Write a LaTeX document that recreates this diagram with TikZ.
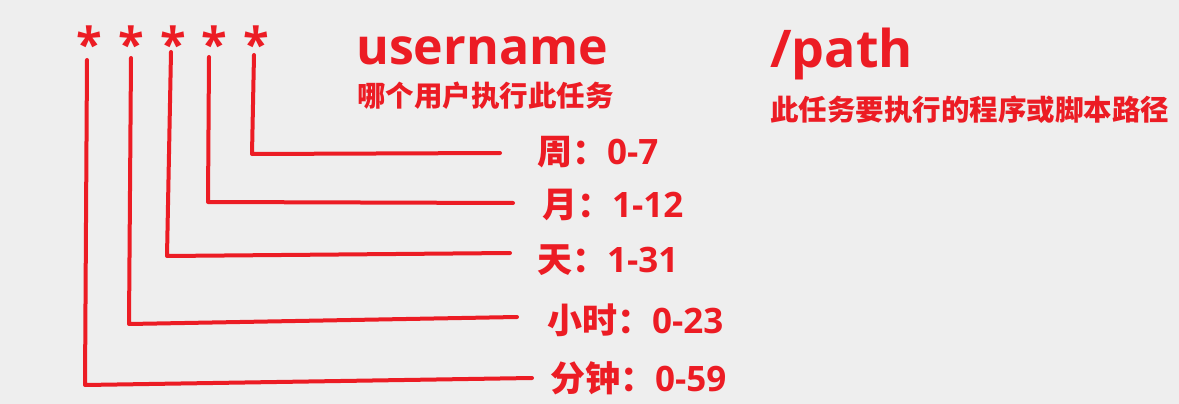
\documentclass[tikz,border=0pt]{standalone}
\usepackage{fontspec}
\setmainfont{Open Sans}
\newfontfamily\cjk{Noto Sans CJK SC}
\definecolor{cred}{RGB}{236,28,36}
\definecolor{bgc}{RGB}{238,238,238}
\begin{document}
\begin{tikzpicture}[x=1pt,y=-1pt,
  redline/.style={draw=cred,line width=4pt,line cap=round,line join=round},
  starnode/.style={text=cred,font=\fontsize{47}{47}\selectfont\bfseries,inner sep=0pt,anchor=base},
  lab/.style={text=cred,font=\fontsize{35}{40}\selectfont\bfseries,inner sep=0pt,anchor=west},
  title/.style={text=cred,inner sep=0pt,anchor=base west},
  sub/.style={text=cred,font=\fontsize{28.5}{32}\selectfont\bfseries\cjk,inner sep=0pt,anchor=west}]
\fill[bgc] (0,0) rectangle (1179,404);
\useasboundingbox (0,0) rectangle (1179,404);
% asterisks
\node[starnode] (s1) at (89,62) {*};
\node[starnode] (s2) at (131,62) {*};
\node[starnode] (s3) at (173,62) {*};
\node[starnode] (s4) at (214,62) {*};
\node[starnode] (s5) at (256,62) {*};
% titles
\node[title,font=\fontsize{50}{52}\selectfont\bfseries] (user) at (356,65) {username};
\node[sub] (usersub) at (357,96) {哪个用户执行此任务};
\node[title,font=\fontsize{52}{54}\selectfont\bfseries] (path) at (770,68) {/path};
\node[sub] (pathsub) at (770,110) {此任务要执行的程序或脚本路径};
% labels
\node[lab] (l5) at (537,152) {{\cjk 周：}0-7};
\node[lab] (l4) at (542,205) {{\cjk 月：}1-12};
\node[lab] (l3) at (537,260) {{\cjk 天：}1-31};
\node[lab] (l2) at (547,320) {{\cjk 小时：}0-23};
\node[lab] (l1) at (550,378) {{\cjk 分钟：}0-59};
% connector points
\coordinate (t1) at (87,60);  \coordinate (c1) at (85,385);  \coordinate (e1) at (532,378);
\coordinate (t2) at (131,58); \coordinate (c2) at (129,324); \coordinate (e2) at (517,317);
\coordinate (t3) at (171,52); \coordinate (c3) at (167,256); \coordinate (e3) at (510,253);
\coordinate (t4) at (209,57); \coordinate (c4) at (208,202); \coordinate (e4) at (513,203);
\coordinate (t5) at (254,55); \coordinate (c5) at (252,154); \coordinate (e5) at (500,153);
\draw[redline] (t1) -- (c1) -- (e1);
\draw[redline] (t2) -- (c2) -- (e2);
\draw[redline] (t3) -- (c3) -- (e3);
\draw[redline] (t4) -- (c4) -- (e4);
\draw[redline] (t5) -- (c5) -- (e5);
\end{tikzpicture}
\end{document}
